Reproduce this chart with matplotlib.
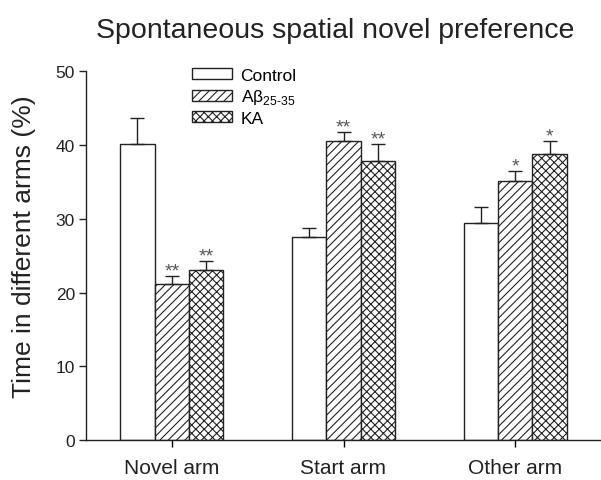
import matplotlib
matplotlib.use("Agg")
import matplotlib.pyplot as plt
import numpy as np

categories = ["Novel arm", "Start arm", "Other arm"]
groups = ["Control", "A\u03b2$_{\\mathregular{25\\text{-}35}}$", "KA"]
control = [40.1, 27.5, 29.4]
control_err = [3.6, 1.3, 2.2]
abeta = [21.1, 40.5, 35.1]
abeta_err = [1.2, 1.3, 1.4]
ka = [23.0, 37.8, 38.8]
ka_err = [1.3, 2.4, 1.8]
abeta_sig = ["**", "**", "*"]
ka_sig = ["**", "**", "*"]
yticks = [0, 10, 20, 30, 40, 50]

plt.rcParams['font.family'] = ['Liberation Sans', 'DejaVu Sans']
plt.rcParams['mathtext.fontset'] = 'custom'
plt.rcParams['mathtext.rm'] = 'Liberation Sans'
plt.rcParams['hatch.linewidth'] = 0.8

fig = plt.figure(figsize=(6.01, 4.81), dpi=100)
ax = fig.add_axes([86/601, 40/481, 515/601, (441-72.3)/481])

x = np.arange(len(categories))
w = 0.2
series = [(control, control_err, "", None), (abeta, abeta_err, "////", abeta_sig), (ka, ka_err, "xxxx", ka_sig)]
offsets = [-w, 0, w]
for (vals, errs, hatch, sig), off, lab in zip(series, offsets, groups):
    ax.bar(x + off, vals, w, color="white", edgecolor="#222222", linewidth=1.0,
           hatch=hatch, label=lab, zorder=2)
    ax.errorbar(x + off, vals, yerr=[np.zeros(len(errs)), errs], fmt="none",
                ecolor="#222222", elinewidth=1.0, capsize=5, capthick=1.0, zorder=3)
    if sig is not None:
        for xi, v, e, s in zip(x + off, vals, errs, sig):
            ax.text(xi, v + e, s, ha="center", va="baseline", fontsize=14, color="#555555")

ax.set_xlim(-0.5, 2.5)
ax.set_ylim(0, 50)
ax.set_yticks(yticks)
ax.set_xticks(x)
ax.set_xticklabels(categories, fontsize=15, color="#222222")
ax.tick_params(axis='y', labelsize=12.5, colors="#222222", length=5, width=1.0, pad=3)
ax.tick_params(axis='x', length=5, width=1.0, pad=8)
for sp in ["top", "right"]:
    ax.spines[sp].set_visible(False)
for sp in ["left", "bottom"]:
    ax.spines[sp].set_linewidth(1.0)
    ax.spines[sp].set_color("#222222")

ax.set_ylabel("Time in different arms (%)", fontsize=19, color="#222222")
ax.yaxis.set_label_coords(-(86 - 36) / 515, 0.527)

fig.text(335/601, 1 - 31/481, "Spontaneous spatial novel preference", ha="center", va="center",
         fontsize=20.5, color="#222222")

leg = ax.legend(loc="upper left", bbox_to_anchor=(192/601, 1 - 69/481), bbox_transform=fig.transFigure,
                frameon=False, fontsize=12.5, handlelength=2.3, handleheight=0.6,
                labelspacing=0.25, handletextpad=0.5, borderaxespad=0, borderpad=0)

fig.savefig("out.png", dpi=100)
